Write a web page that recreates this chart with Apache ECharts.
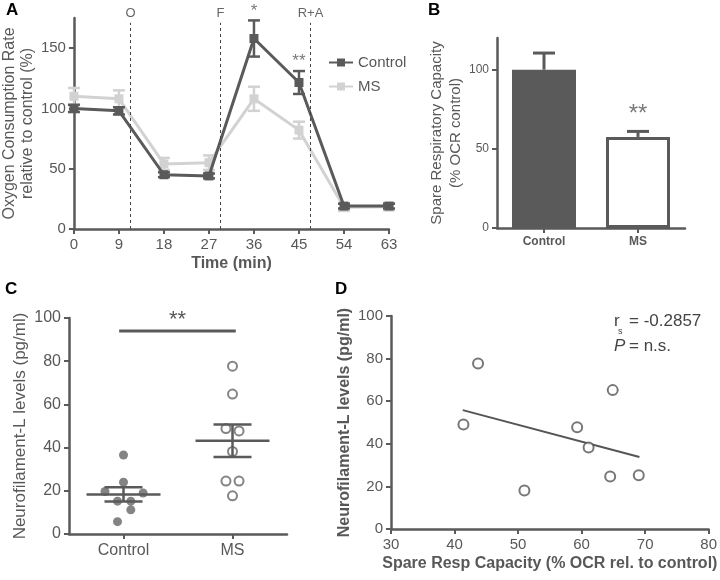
<!DOCTYPE html>
<html><head><meta charset="utf-8">
<script src="https://cdn.jsdelivr.net/npm/echarts@6/dist/echarts.min.js"></script>
<style>html,body{margin:0;padding:0;background:#fff}#c{width:720px;height:580px}</style>
</head><body><div id="c"></div>
<script>
// ---------- Panel A ----------
const timeA = [0, 9, 18, 27, 36, 45, 54, 63];
const ctrlA = [100, 98, 45, 44, 158, 121.5, 19, 19];
const ctrlErrA = [3, 3, 2, 2, 15, 9.5, 2, 2];
const msA = [110, 108, 54, 55, 108, 82, 18, 18.5];
const msErrA = [7, 7, 5, 6, 10, 7, 3, 3];
const injA = [11.3, 29.3, 47.3];
const injLabelsA = ['O', 'F', 'R+A'];
const sigA = ['', '', '', '', '*', '**', '', ''];
const yTicksA = [0, 50, 100, 150];

// ---------- Panel B ----------
const catsB = ['Control', 'MS'];
const valsB = [100, 57.5];
const errB = [10.5, 3.5];
const sigB = ['', '**'];
const yTicksB = [0, 50, 100];

// ---------- Panel C ----------
const catsC = ['Control', 'MS'];
const ctrlC = [36.6, 24, 19.7, 19, 15.2, 15.2, 11.2, 5.7];
const ctrlJitterC = [0, 0, -0.17, 0.18, -0.055, 0.067, 0.067, -0.055];
const msC = [77.7, 64.8, 48.8, 47.7, 38.2, 24.5, 24.5, 17.7];
const msJitterC = [0, 0, -0.06, 0.06, 0, -0.06, 0.06, 0];
const meanC = [18.3, 43.2];
const semC = [3.3, 7.5];
const sigBarC = [-0.04, 1.03];
const sigLevelC = 94;
const sigTextC = '**';

// ---------- Panel D ----------
const sracD = [41.4, 43.7, 51.0, 59.3, 61.1, 64.9, 64.5, 69.0];
const nflD = [49.1, 77.7, 18.1, 47.8, 38.3, 65.2, 24.7, 25.2];
const fitXD = [41.3, 69.1];
const fitYD = [55.8, 33.8];

const DARK = '#5a5a5a';
const LIGHT = '#d2d2d2';
const TXT = '#585858';
const FONT = 'Liberation Sans, Arial, sans-serif';

function axisBase(fs) {
  return {
    axisLine: { show: true, onZero: false, lineStyle: { color: DARK, width: 2.5 } },
    axisTick: { show: true, length: 5, lineStyle: { color: DARK, width: 2 } },
    axisLabel: { color: TXT, fontSize: fs, fontFamily: FONT },
    splitLine: { show: false },
    nameTextStyle: { color: TXT, fontFamily: FONT }
  };
}
function merge(a, b) {
  const o = Object.assign({}, a);
  for (const k in b) {
    if (b[k] && typeof b[k] === 'object' && !Array.isArray(b[k]) && o[k] && typeof o[k] === 'object') o[k] = merge(o[k], b[k]);
    else o[k] = b[k];
  }
  return o;
}

function errRender(capHalf, color, lw, upOnly) {
  return function (params, api) {
    const x = api.value(0), y = api.value(1), e = api.value(2);
    const top = api.coord([x, y + e]);
    const bot = api.coord([x, upOnly ? y : y - e]);
    const st = { stroke: color, lineWidth: lw };
    const ch = [
      { type: 'line', shape: { x1: top[0], y1: top[1], x2: bot[0], y2: bot[1] }, style: st },
      { type: 'line', shape: { x1: top[0] - capHalf, y1: top[1], x2: top[0] + capHalf, y2: top[1] }, style: st }
    ];
    if (!upOnly) ch.push({ type: 'line', shape: { x1: bot[0] - capHalf, y1: bot[1], x2: bot[0] + capHalf, y2: bot[1] }, style: st });
    return { type: 'group', children: ch };
  };
}
function meanSemRender(params, api) {
  const x = api.value(0), m = api.value(1), s = api.value(2);
  const pm = api.coord([x, m]), pt = api.coord([x, m + s]), pb = api.coord([x, m - s]);
  const st = { stroke: DARK, lineWidth: 2.5 };
  return { type: 'group', children: [
    { type: 'line', shape: { x1: pm[0] - 37, y1: pm[1], x2: pm[0] + 37, y2: pm[1] }, style: st },
    { type: 'line', shape: { x1: pt[0], y1: pt[1], x2: pb[0], y2: pb[1] }, style: st },
    { type: 'line', shape: { x1: pt[0] - 19, y1: pt[1], x2: pt[0] + 19, y2: pt[1] }, style: st },
    { type: 'line', shape: { x1: pb[0] - 19, y1: pb[1], x2: pb[0] + 19, y2: pb[1] }, style: st }
  ] };
}

const chart = echarts.init(document.getElementById('c'), null, { renderer: 'canvas' });

const option = {
  backgroundColor: '#fff',
  animation: false,
  textStyle: { fontFamily: FONT },
  grid: [
    { left: 71, top: 18, width: 318, height: 211 },
    { left: 497, top: 38, width: 188, height: 190 },
    { left: 69, top: 318, width: 218, height: 216 },
    { left: 391, top: 316, width: 318, height: 213 }
  ],
  legend: {
    data: ['Control', 'MS'], orient: 'vertical', left: 323, top: 50,
    itemWidth: 24, itemHeight: 10, itemGap: 9,
    textStyle: { color: TXT, fontSize: 15, fontFamily: FONT }
  },
  xAxis: [
    merge(axisBase(15), { gridIndex: 0, type: 'value', min: 0, max: 63, interval: 9,
      name: 'Time (min)', nameLocation: 'middle', nameGap: 27,
      nameTextStyle: { fontSize: 16, fontWeight: 'bold' } }),
    merge(axisBase(12), { gridIndex: 1, type: 'category', data: catsB,
      axisTick: { alignWithLabel: true }, axisLabel: { fontWeight: 'bold', margin: 8 } }),
    merge(axisBase(16), { gridIndex: 2, type: 'value', min: -0.5, max: 1.5,
      axisTick: { customValues: [0, 1] },
      axisLabel: { customValues: [0, 1], formatter: v => catsC[Math.round(v)], margin: 9 } }),
    merge(axisBase(15), { gridIndex: 3, type: 'value', min: 30, max: 80, interval: 10,
      name: 'Spare Resp Capacity (% OCR rel. to control)', nameLocation: 'middle', nameGap: 27,
      nameTextStyle: { fontSize: 16, fontWeight: 'bold' } })
  ],
  yAxis: [
    merge(axisBase(15), { gridIndex: 0, type: 'value', min: 0, max: 175,
      axisTick: { customValues: yTicksA }, axisLabel: { customValues: yTicksA },
      name: 'Oxygen Consumption Rate\nrelative to control (%)', nameLocation: 'middle', nameGap: 36,
      nameTextStyle: { fontSize: 16, lineHeight: 18 } }),
    merge(axisBase(12), { gridIndex: 1, type: 'value', min: 0, max: 120,
      axisTick: { customValues: yTicksB }, axisLabel: { customValues: yTicksB },
      name: 'Spare Respiratory Capacity\n(% OCR control)', nameLocation: 'middle', nameGap: 32,
      nameTextStyle: { fontSize: 15, lineHeight: 19 } }),
    merge(axisBase(16), { gridIndex: 2, type: 'value', min: 0, max: 100, interval: 20,
      name: 'Neurofilament-L levels (pg/ml)', nameLocation: 'middle', nameGap: 40,
      nameTextStyle: { fontSize: 17 } }),
    merge(axisBase(15), { gridIndex: 3, type: 'value', min: 0, max: 100, interval: 20,
      name: 'Neurofilament-L levels (pg/ml)', nameLocation: 'middle', nameGap: 38,
      nameTextStyle: { fontSize: 16, fontWeight: 'bold' } })
  ],
  series: [
    // Panel A
    { type: 'line', name: 'MS', xAxisIndex: 0, yAxisIndex: 0,
      data: timeA.map((t, i) => [t, msA[i]]), symbol: 'rect', symbolSize: 9,
      lineStyle: { color: LIGHT, width: 3 }, itemStyle: { color: LIGHT }, z: 3,
      markLine: { silent: true, symbol: 'none',
        lineStyle: { color: '#444', width: 1, type: [3, 3] },
        label: { position: 'end', distance: 3, color: '#666', fontSize: 13, formatter: p => injLabelsA[p.dataIndex] },
        data: injA.map(x => [{ coord: [x, 0] }, { coord: [x, 171] }]) } },
    { type: 'custom', name: 'MS', xAxisIndex: 0, yAxisIndex: 0, renderItem: errRender(6, LIGHT, 2.5, false),
      data: timeA.map((t, i) => [t, msA[i], msErrA[i]]), z: 3 },
    { type: 'line', name: 'Control', xAxisIndex: 0, yAxisIndex: 0,
      data: timeA.map((t, i) => [t, ctrlA[i]]), symbol: 'rect', symbolSize: 9,
      lineStyle: { color: DARK, width: 3 }, itemStyle: { color: DARK }, z: 4 },
    { type: 'custom', name: 'Control', xAxisIndex: 0, yAxisIndex: 0, renderItem: errRender(6, DARK, 2.5, false),
      data: timeA.map((t, i) => [t, ctrlA[i], ctrlErrA[i]]), z: 4 },
    { type: 'scatter', xAxisIndex: 0, yAxisIndex: 0, symbolSize: 0, clip: false, silent: true,
      data: timeA.map((t, i) => [t, ctrlA[i] + ctrlErrA[i]]),
      label: { show: true, position: 'top', distance: 1, color: TXT, fontSize: 17, formatter: p => sigA[p.dataIndex] } },
    // Panel B
    { type: 'bar', xAxisIndex: 1, yAxisIndex: 1, barWidth: 64,
      data: valsB.map((v, i) => ({ value: v, itemStyle: i === 0 ? { color: DARK, borderColor: DARK, borderWidth: 2 } : { color: '#fff', borderColor: DARK, borderWidth: 3 } })) },
    { type: 'custom', xAxisIndex: 1, yAxisIndex: 1, renderItem: errRender(11, DARK, 3, true),
      data: valsB.map((v, i) => [i, v, errB[i]]), z: 1 },
    { type: 'scatter', xAxisIndex: 1, yAxisIndex: 1, symbolSize: 0, silent: true,
      data: valsB.map((v, i) => [i, v + errB[i]]),
      label: { show: true, position: 'top', distance: 5, color: TXT, fontSize: 24, formatter: p => sigB[p.dataIndex] } },
    // Panel C
    { type: 'scatter', xAxisIndex: 2, yAxisIndex: 2, symbolSize: 9,
      itemStyle: { color: '#656565' }, data: ctrlC.map((v, i) => [0 + ctrlJitterC[i], v]) },
    { type: 'scatter', xAxisIndex: 2, yAxisIndex: 2, symbolSize: 9,
      itemStyle: { color: '#fff', borderColor: '#656565', borderWidth: 2 }, data: msC.map((v, i) => [1 + msJitterC[i], v]) },
    { type: 'custom', xAxisIndex: 2, yAxisIndex: 2, renderItem: meanSemRender,
      data: meanC.map((m, i) => [i, m, semC[i]]), z: 5 },
    { type: 'line', xAxisIndex: 2, yAxisIndex: 2, symbol: 'none', silent: true,
      lineStyle: { color: DARK, width: 3 }, data: sigBarC.map(x => [x, sigLevelC]),
      markPoint: { symbolSize: 0, label: { show: true, position: 'top', distance: 0, color: TXT, fontSize: 22, formatter: sigTextC },
        data: [{ coord: [(sigBarC[0] + sigBarC[1]) / 2, sigLevelC] }] } },
    // Panel D
    { type: 'scatter', xAxisIndex: 3, yAxisIndex: 3, symbolSize: 10,
      itemStyle: { color: '#fff', borderColor: '#555', borderWidth: 2 }, data: sracD.map((x, i) => [x, nflD[i]]), z: 3 },
    { type: 'line', xAxisIndex: 3, yAxisIndex: 3, symbol: 'none', silent: true,
      lineStyle: { color: '#555', width: 2 }, data: fitXD.map((x, i) => [x, fitYD[i]]), z: 2 }
  ],
  graphic: [
    { type: 'text', left: 6, top: 2, style: { text: 'A', fontSize: 17, fontWeight: 'bold', fill: '#000', fontFamily: FONT } },
    { type: 'text', left: 428, top: 2, style: { text: 'B', fontSize: 17, fontWeight: 'bold', fill: '#000', fontFamily: FONT } },
    { type: 'text', left: 5, top: 281, style: { text: 'C', fontSize: 17, fontWeight: 'bold', fill: '#000', fontFamily: FONT } },
    { type: 'text', left: 335, top: 281, style: { text: 'D', fontSize: 17, fontWeight: 'bold', fill: '#000', fontFamily: FONT } },
    { type: 'text', left: 614, top: 313, style: { text: 'r', fontSize: 17, fill: '#444', fontFamily: FONT } },
    { type: 'text', left: 618, top: 327, style: { text: 's', fontSize: 9, fill: '#444', fontFamily: FONT } },
    { type: 'text', left: 629, top: 313, style: { text: '= -0.2857', fontSize: 17, fill: '#444', fontFamily: FONT } },
    { type: 'text', left: 614, top: 338, style: { text: 'P', fontSize: 17, fontStyle: 'italic', fill: '#444', fontFamily: FONT } },
    { type: 'text', left: 629, top: 338, style: { text: '= n.s.', fontSize: 17, fill: '#444', fontFamily: FONT } }
  ]
};
chart.setOption(option);
</script>
</body></html>
